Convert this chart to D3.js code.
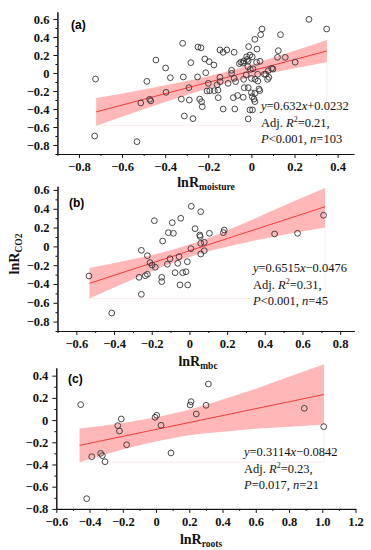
<!DOCTYPE html>
<meta charset="utf-8">
<title>lnR CO2 vs lnR moisture / mbc / roots</title>
<style>
body { margin: 0px; background: #fff; }
svg { display: block; background: #fff; }
.domain, .tick line { stroke: #111; }
</style>
<body>
<script src="https://cdn.jsdelivr.net/npm/d3@7/dist/d3.min.js"></script>
<script>

var width = 371, height = 550;

// ---- (a) lnR moisture, n = 103
var ptsA = [
  [-0.723,-0.067],[-0.727,-0.70],[-0.531,-0.763],[-0.513,-0.333],[-0.472,-0.292],[-0.467,-0.31],
  [-0.485,-0.093],[-0.443,0.144],[-0.398,0.056],[-0.396,-0.215],[-0.376,-0.052],[-0.319,0.33],
  [-0.325,-0.29],[-0.316,-0.044],[-0.311,-0.478],[-0.29,-0.163],[-0.281,0.115],[-0.288,-0.30],
  [-0.271,-0.507],[-0.25,-0.044],[-0.248,0.289],[-0.234,0.28],[-0.24,-0.29],[-0.231,-0.32],
  [-0.228,-0.374],[-0.216,0.156],[-0.212,0.003],[-0.196,0.126],[-0.2,-0.115],[-0.206,-0.2],
  [-0.193,-0.196],[-0.174,0.089],[-0.172,-0.196],[-0.159,-0.13],[-0.154,-0.274],[-0.155,-0.19],
  [-0.146,-0.048],[-0.145,-0.096],[-0.146,0.256],[-0.131,0.23],[-0.131,-0.4],[-0.114,0.256],
  [-0.108,-0.115],[-0.092,0.03],[-0.092,-0.004],[-0.084,-0.274],[-0.08,0.23],[-0.08,-0.06],
  [-0.077,-0.4],[-0.073,-0.096],[-0.064,-0.25],[-0.056,0.104],[-0.049,0.12],[-0.038,-0.27],
  [-0.036,-0.07],[-0.035,0.133],[-0.033,-0.163],[-0.024,-0.02],[-0.022,0.18],[-0.015,0.133],
  [-0.013,0.293],[-0.015,-0.163],[-0.016,0.07],[-0.007,0.2],[-0.007,-0.41],[-0.015,-0.51],
  [-0.005,0.04],[0.0,-0.06],[0.0,-0.22],[0.004,-0.263],[0.004,0.18],[0.005,-0.41],
  [0.007,0.047],[0.012,-0.29],[0.017,-0.07],[0.016,0.374],[0.016,-0.318],[0.016,-0.226],
  [0.024,0.12],[0.026,0.266],[0.029,-0.014],[0.035,-0.178],[0.039,-0.196],[0.04,0.13],
  [0.043,0.426],[0.049,0.489],[0.06,-0.014],[0.067,-0.014],[0.075,-0.07],[0.078,0.026],
  [0.081,-0.048],[0.094,0.052],[0.1,0.044],[0.121,0.174],[0.125,0.248],[0.135,0.426],
  [0.157,0.174],[0.203,0.12],[0.267,0.596],[0.349,0.489],[-0.02,0.15],[-0.04,0.11],[0.03,-0.09]
];
var fitA = [0.632, 0.0232];
var bandXA  = [-0.72, -0.5, -0.3, -0.12, 0.05, 0.2, 0.35];
var bandLoA = [-0.585, -0.402, -0.244, -0.118, -0.020, 0.053, 0.120];
var bandHiA = [-0.279, -0.183, -0.089, 0.012, 0.130, 0.246, 0.368];
var xTicksA = [-0.8, -0.6, -0.4, -0.2, 0, 0.2, 0.4];
var yTicksA = [-0.8, -0.6, -0.4, -0.2, 0, 0.2, 0.4, 0.6];
var statsA = [
  [["y","i"],["=0.632"],["x","i"],["+0.0232"]],
  [["Adj. "],["R","i"],["2","sup"],["=0.21,"]],
  [["P","i"],["<0.001, "],["n","i"],["=103"]]
];

// ---- (b) lnR mbc, n = 45
var ptsB = [
  [-0.533,-0.315],[-0.412,-0.709],[-0.255,-0.042],[-0.223,-0.099],[-0.209,-0.173],[-0.198,-0.198],
  [-0.181,-0.222],[-0.186,0.273],[-0.267,-0.329],[-0.234,-0.312],[-0.223,-0.297],[-0.255,-0.51],
  [-0.142,0.057],[-0.147,-0.329],[-0.147,-0.375],[-0.117,-0.19],[-0.112,0.146],[-0.085,0.139],
  [-0.091,0.252],[-0.103,-0.131],[-0.076,-0.28],[-0.062,-0.18],[-0.055,-0.11],[-0.046,0.299],
  [-0.05,-0.41],[-0.036,-0.28],[-0.018,-0.27],[-0.011,-0.163],[-0.009,-0.41],[0.008,-0.024],
  [0.01,0.426],[0.03,0.188],[0.055,0.121],[0.057,0.105],[0.06,0.369],[0.06,0.033],
  [0.06,-0.081],[0.079,0.043],[0.079,-0.046],[0.106,0.139],[0.18,0.146],[0.185,0.174],
  [0.452,0.132],[0.574,0.139],[0.712,0.331]
];
var fitB = [0.6515, -0.0476];
var bandXB  = [-0.53, -0.3, -0.1, 0.1, 0.3, 0.5, 0.72];
var bandLoB = [-0.555, -0.349, -0.184, -0.053, 0.042, 0.124, 0.200];
var bandHiB = [-0.231, -0.137, -0.042, 0.089, 0.254, 0.432, 0.620];
var xTicksB = [-0.6, -0.4, -0.2, 0, 0.2, 0.4, 0.6, 0.8];
var yTicksB = [-0.8, -0.6, -0.4, -0.2, 0, 0.2, 0.4, 0.6];
var statsB = [
  [["y","i"],["=0.6515"],["x","i"],["\u22120.0476"]],
  [["Adj. "],["R","i"],["2","sup"],["=0.31,"]],
  [["P","i"],["<0.001, "],["n","i"],["=45"]]
];

// ---- (c) lnR roots, n = 21
var ptsC = [
  [-0.453,0.139],[-0.417,-0.708],[-0.387,-0.33],[-0.333,-0.3],[-0.323,-0.32],[-0.307,-0.375],
  [-0.23,-0.05],[-0.22,-0.098],[-0.209,0.01],[-0.177,-0.222],[-0.006,0.025],[0.004,0.043],
  [0.03,-0.047],[0.09,-0.296],[0.205,0.136],[0.211,0.166],[0.242,0.055],[0.301,0.133],
  [0.315,0.325],[0.892,0.106],[1.009,-0.059]
];
var fitC = [0.3114, -0.0842];
var bandXC  = [-0.46, -0.2, 0, 0.2, 0.4, 0.6, 0.8, 1.01];
var bandLoC = [-0.379, -0.266, -0.194, -0.137, -0.105, -0.077, -0.060, -0.040];
var bandHiC = [-0.075, -0.026, 0.026, 0.093, 0.185, 0.283, 0.390, 0.500];
var xTicksC = [-0.6, -0.4, -0.2, 0, 0.2, 0.4, 0.6, 0.8, 1.0, 1.2];
var yTicksC = [-0.8, -0.6, -0.4, -0.2, 0, 0.2, 0.4];
var statsC = [
  [["y","i"],["=0.3114"],["x","i"],["\u22120.0842"]],
  [["Adj. "],["R","i"],["2","sup"],["=0.23,"]],
  [["P","i"],["=0.017, "],["n","i"],["=21"]]
];

var svg = d3.select("body").append("svg")
    .attr("width", width)
    .attr("height", height);

var serif = "'Liberation Serif', 'Times New Roman', serif";
var fmt = function(d) { return Math.abs(d) < 1e-9 ? "0" : d3.format(".1f")(d); };

// minor ticks every 0.1 inside the domain
function minors(domain) {
  var out = [];
  for (var v = Math.ceil(domain[0] * 10 - 1e-6); v <= Math.floor(domain[1] * 10 + 1e-6); v++) {
    if (Math.abs(v % 2) === 1) out.push(v / 10);
  }
  return out;
}

function styleTicks(sel) {
  sel.attr("font-family", serif).attr("font-size", 12.5).attr("font-weight", "bold");
  sel.selectAll(".tick text").attr("fill", "#111");
}

function drawPanel(p) {
  var x = d3.scaleLinear().domain(p.xDom).range(p.xRange);
  var y = d3.scaleLinear().domain(p.yDom).range(p.yRange);
  var g = svg.append("g");

  var x0 = p.bandX[0], x1 = p.bandX[p.bandX.length - 1];
  var lo = d3.min(p.bandLo);

  // faint frame (bottom + right) left behind by the band layer
  g.append("path")
      .attr("d", "M" + x(x0) + "," + y(lo) + "H" + x(x1) + "V" + y(p.bandLo[p.bandLo.length - 1]))
      .attr("fill", "none")
      .attr("stroke", "#fde6e6")
      .attr("stroke-width", 0.8);

  // confidence band
  var area = d3.area()
      .x(function(d, i) { return x(p.bandX[i]); })
      .y0(function(d, i) { return y(p.bandLo[i]); })
      .y1(function(d, i) { return y(p.bandHi[i]); })
      .curve(d3.curveMonotoneX);
  g.append("path")
      .datum(p.bandX)
      .attr("d", area)
      .attr("fill", "#ff6f6f")
      .attr("fill-opacity", 0.5);

  // fitted line
  g.append("line")
      .attr("x1", x(x0)).attr("y1", y(p.fit[0] * x0 + p.fit[1]))
      .attr("x2", x(x1)).attr("y2", y(p.fit[0] * x1 + p.fit[1]))
      .attr("stroke", "#f03a3a")
      .attr("stroke-width", 1);

  // points
  g.selectAll("circle.pt")
      .data(p.pts)
    .enter().append("circle")
      .attr("class", "pt")
      .attr("cx", function(d) { return x(d[0]); })
      .attr("cy", function(d) { return y(d[1]); })
      .attr("r", 2.9)
      .attr("fill", "none")
      .attr("stroke", "#333")
      .attr("stroke-width", 0.9);

  // axes
  var yb = p.yRange[0], xl = p.xRange[0];
  g.append("g").attr("transform", "translate(0," + yb + ")")
      .call(d3.axisBottom(x).tickValues(minors(p.xDom)).tickFormat("").tickSize(2).tickSizeOuter(0));
  g.append("g").attr("transform", "translate(0," + yb + ")")
      .call(d3.axisBottom(x).tickValues(p.xTicks).tickFormat(fmt).tickSize(4).tickSizeOuter(0).tickPadding(4))
      .call(styleTicks);
  g.append("g").attr("transform", "translate(" + xl + ",0)")
      .call(d3.axisLeft(y).tickValues(minors(p.yDom)).tickFormat("").tickSize(2).tickSizeOuter(0));
  g.append("g").attr("transform", "translate(" + xl + ",0)")
      .call(d3.axisLeft(y).tickValues(p.yTicks).tickFormat(fmt).tickSize(4).tickSizeOuter(0).tickPadding(4))
      .call(styleTicks);

  // x title
  var t = g.append("text")
      .attr("x", p.xTitle[0]).attr("y", p.xTitle[1])
      .attr("text-anchor", "middle")
      .style("font-family", serif)
      .style("font-weight", "bold")
      .style("fill", "#111");
  t.append("tspan").style("font-size", "14px").text("lnR");
  t.append("tspan").style("font-size", "9.5px").attr("dy", 3).text(p.sub);

  // panel letter
  g.append("text")
      .attr("x", p.letter[0]).attr("y", p.letter[1])
      .style("font", "bold 12px 'Liberation Sans', Arial, sans-serif")
      .text(p.name);

  // stats
  p.stats.forEach(function(line, li) {
    var s = g.append("text")
        .attr("x", p.statPos[0]).attr("y", p.statPos[1] + li * 16.5)
        .style("font-family", serif)
        .style("font-size", "12.5px")
        .style("fill", "#111");
    var lift = 0;
    line.forEach(function(seg) {
      var ts = s.append("tspan").text(seg[0]);
      if (seg[1] === "i") ts.style("font-style", "italic");
      if (seg[1] === "sup") { ts.style("font-size", "8px").attr("dy", -5); lift = 5; }
      else if (lift) { ts.attr("dy", lift); lift = 0; }
    });
  });
}

drawPanel({ name: "(a)", pts: ptsA, fit: fitA, bandX: bandXA, bandLo: bandLoA, bandHi: bandHiA,
  xTicks: xTicksA, yTicks: yTicksA, stats: statsA, sub: "moisture",
  xDom: [-0.9, 0.475], xRange: [57.4, 353.8], yDom: [-0.9, 0.68], yRange: [154, 11.8],
  xTitle: [206, 187], letter: [71, 29], statPos: [261, 110] });

drawPanel({ name: "(b)", pts: ptsB, fit: fitB, bandX: bandXB, bandLo: bandLoB, bandHi: bandHiB,
  xTicks: xTicksB, yTicks: yTicksB, stats: statsB, sub: "mbc",
  xDom: [-0.7, 0.875], xRange: [57.5, 354.3], yDom: [-0.9, 0.64], yRange: [331, 186.2],
  xTitle: [198, 366], letter: [69, 206.5], statPos: [253, 272] });

drawPanel({ name: "(c)", pts: ptsC, fit: fitC, bandX: bandXC, bandLo: bandLoC, bandHi: bandHiC,
  xTicks: xTicksC, yTicks: yTicksC, stats: statsC, sub: "roots",
  xDom: [-0.6, 1.2], xRange: [56.3, 355.5], yDom: [-0.8, 0.47], yRange: [508.9, 367.9],
  xTitle: [201, 544], letter: [68, 382.5], statPos: [244, 456] });

// shared y title
var yt = svg.append("text")
    .attr("transform", "translate(19,254) rotate(-90)")
    .attr("text-anchor", "middle")
    .style("font-family", serif)
    .style("font-weight", "bold")
    .style("fill", "#111");
yt.append("tspan").style("font-size", "14px").text("lnR");
yt.append("tspan").style("font-size", "9.5px").attr("dy", 3).text("CO2");

</script>
